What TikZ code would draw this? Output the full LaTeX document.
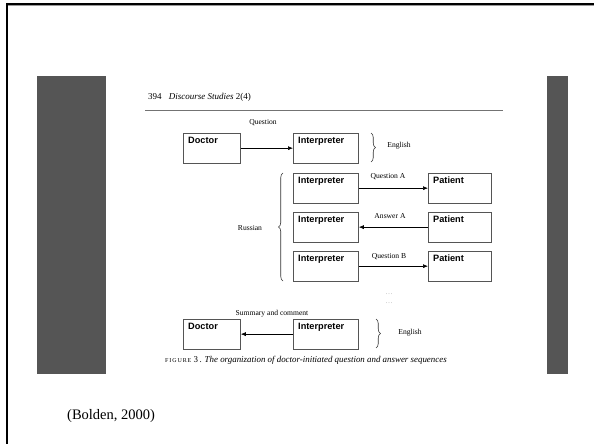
\documentclass[tikz,border=0pt]{standalone}
\usepackage{fontspec}
\setmainfont{Liberation Serif}
\newfontfamily\arialf{Liberation Sans}
\newfontfamily\capsf[LetterSpace=15]{Liberation Serif}
\usetikzlibrary{decorations.pathreplacing,arrows.meta}
\definecolor{slidegray}{HTML}{555555}
\definecolor{boxline}{HTML}{555555}
\begin{document}
\begin{tikzpicture}[x=1pt,y=-1pt,
  box/.style={draw=boxline, line width=0.8pt, anchor=north west, inner sep=0pt, minimum height=29.5pt},
  lbl/.style={anchor=north west, inner xsep=5pt, inner ysep=3.5pt, font=\arialf\bfseries\fontsize{9.2}{10}\selectfont},
  small/.style={font=\fontsize{7.6}{9}\selectfont, inner sep=0pt},
  arr/.style={line width=0.6pt, -{Latex[length=5pt,width=4pt]}},
  brc/.style={decorate, decoration={brace, amplitude=4.5pt}, line width=0.6pt, draw=black!80},
  every node/.style={text=black}]
\useasboundingbox (0,0) rectangle (594,444);
% frame
\draw[line width=2pt] (6,4) -- (594,4);
\draw[black!40, line width=0.8pt] (8,5.6) -- (594,5.6);
\draw[line width=2pt] (7,3) -- (7,444);
% grey side bands
\fill[slidegray] (37,76) rectangle (106,374);
\fill[slidegray] (547,76) rectangle (568,374);
% header
\node[anchor=base west, inner sep=0pt, font=\fontsize{9}{10}\selectfont] (hdr) at (148,99) {394\hspace{0.8em}\textit{Discourse Studies} 2(4)};
\draw[black!55, line width=0.8pt] (145,110) -- (503,110);
% top row
\node[box, minimum width=57pt, label={[lbl]north west:Doctor}] (d1) at (183,133) {};
\node[box, minimum width=65pt, label={[lbl]north west:Interpreter}] (i1) at (293,133) {};
\draw[arr] (d1.east) -- (i1.west);
\node[small] (q) at (263,123) {Question};
\draw[brc] (371,133) -- (371,162);
\node[small] (e1) at (399,146) {English};
% Russian rows
\node[box, minimum width=65pt, label={[lbl]north west:Interpreter}] (i2) at (293,173) {};
\node[box, minimum width=63pt, label={[lbl]north west:Patient}] (p2) at (428,173) {};
\draw[arr] (i2.east) -- (p2.west);
\node[small] (qa) at (388,177) {Question A};
\node[box, minimum width=65pt, label={[lbl]north west:Interpreter}] (i3) at (293,212) {};
\node[box, minimum width=63pt, label={[lbl]north west:Patient}] (p3) at (428,212) {};
\draw[arr] (p3.west) -- (i3.east);
\node[small] (aa) at (390,216) {Answer A};
\node[box, minimum width=65pt, label={[lbl]north west:Interpreter}] (i4) at (293,251) {};
\node[box, minimum width=63pt, label={[lbl]north west:Patient}] (p4) at (428,251) {};
\draw[arr] (i4.east) -- (p4.west);
\node[small] (qb) at (389,257) {Question B};
\draw[brc] (283,281) -- (283,173);
\node[small] (ru) at (250,228) {Russian};
% dots
\node[inner sep=0pt, text=black!45, font=\fontsize{6}{7}\selectfont] (dt1) at (389,294) {.\,.\,.};
\node[inner sep=0pt, text=black!45, font=\fontsize{6}{7}\selectfont] (dt2) at (389,303) {.\,.\,.};
% bottom row
\node[box, minimum width=57pt, label={[lbl]north west:Doctor}] (d5) at (183,319) {};
\node[box, minimum width=65pt, label={[lbl]north west:Interpreter}] (i5) at (293,319) {};
\draw[arr] (i5.west) -- (d5.east);
\node[small] (sc) at (272,314) {Summary and comment};
\draw[brc] (376,319) -- (376,348);
\node[small] (e2) at (410,333) {English};
% caption
\node[anchor=base west, inner sep=0pt, font=\fontsize{8.9}{9}\selectfont] (cap) at (165,362) {{\capsf\fontsize{6}{7}\selectfont FIGURE} 3\,. \textit{The organization of doctor-initiated question and answer sequences}};
% citation
\node[anchor=west, inner sep=0pt, font=\fontsize{14.5}{16}\selectfont] (cit) at (67,416) {(Bolden, 2000)};
\end{tikzpicture}
\end{document}
